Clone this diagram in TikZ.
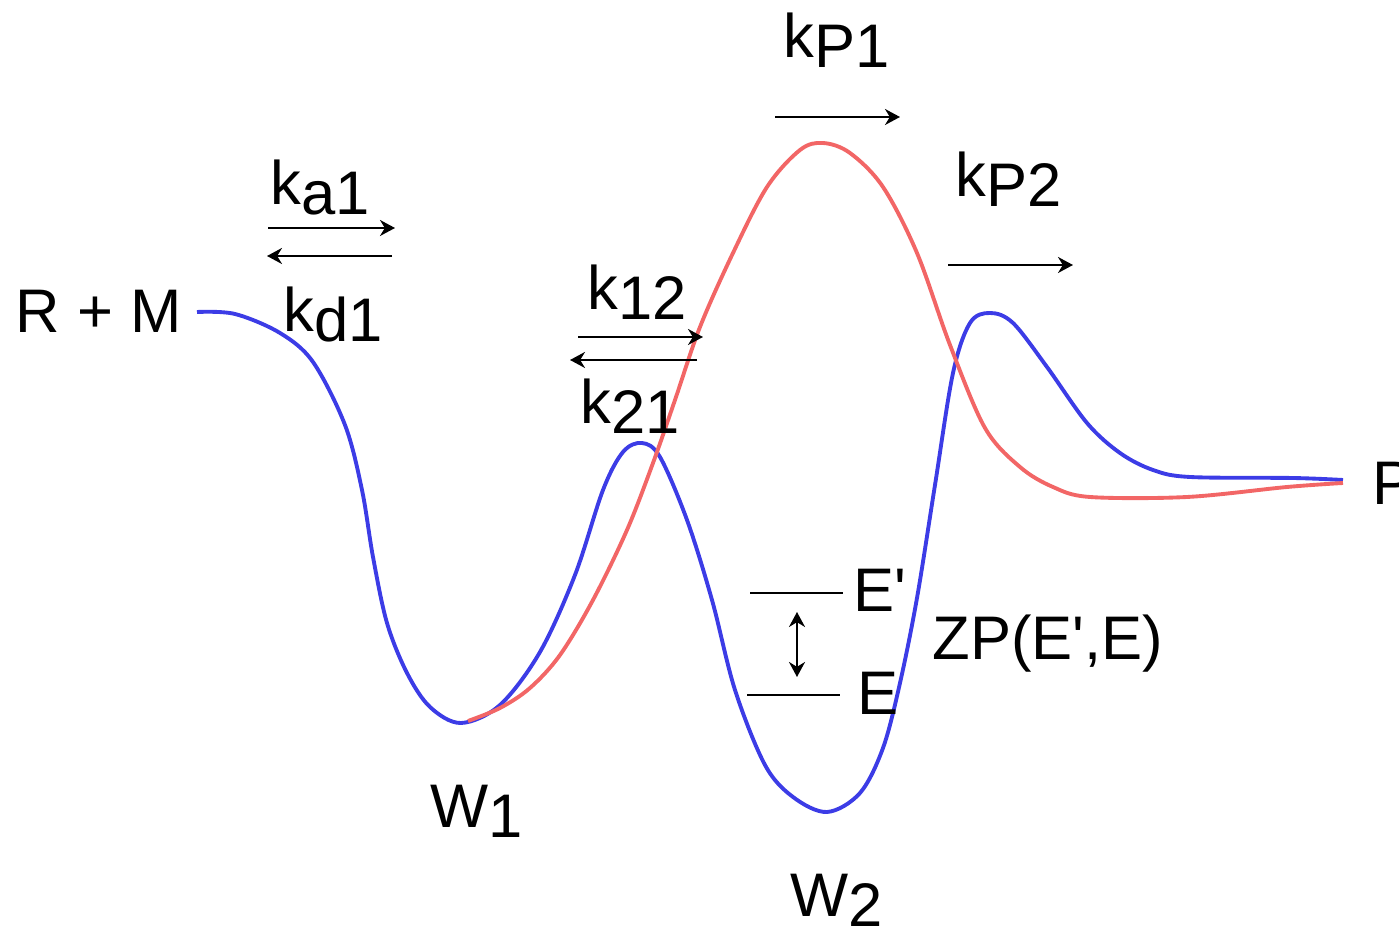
\documentclass[tikz,border=0pt]{standalone}
\usepackage{fontspec}
\setmainfont{Liberation Sans}
\usetikzlibrary{arrows.meta}
\definecolor{cblue}{HTML}{3C3CE6}
\definecolor{cred}{HTML}{F26666}
\newcommand\low[1]{\raisebox{-0.16em}{#1}}
\newcommand\prm{\textquotesingle}
\tikzset{
  every picture/.style={x=0.01cm, y=-0.01cm, font=\fontsize{17.5}{21}\selectfont},
  lbl/.style={anchor=base west, inner sep=0pt},
  rate/.style={-{Stealth[length=0.15cm, width=0.16cm]}, line width=0.6pt},
  level/.style={line width=0.6pt},
  surf/.style={line width=1.1pt, line join=round},
}

\begin{document}
\begin{tikzpicture}
  \useasboundingbox (0,0) rectangle (1399,928);
  % blue surface
  \draw[surf, cblue] plot[smooth, tension=0.55] coordinates {
    (197,312) (235,314) (280,333) (313,362) (345,425) (362,490) (373,557)
    (387,623) (407,673) (430,707) (461,723) (500,705) (540,652) (575,575)
    (603,490) (623,452) (642,443) (660,457) (687,520) (712,600) (735,690)
    (765,765) (793,797) (827,812) (860,793) (883,748) (900,683) (917,598)
    (935,485) (953,373) (970,323) (990,313) (1013,323) (1047,367) (1087,423)
    (1120,453) (1153,470) (1190,477) (1293,478) (1343,480)};
  % red surface
  \draw[surf, cred] plot[smooth, tension=0.55] coordinates {
    (468,721) (500,708) (530,688) (560,655) (593,600) (627,530) (653,463)
    (675,400) (700,327) (733,253) (767,187) (800,150) (823,143) (850,153)
    (883,187) (917,253) (950,345) (985,428) (1020,467) (1053,487) (1090,497)
    (1187,497) (1287,487) (1343,483)};
  % labels
  \node[lbl] (rm) at (15,333) {R + M};
  \node[lbl] (p) at (1372,505) {P};
  \node[lbl] (ka) at (270,205) {k\low{a1}};
  \node[lbl] (kd) at (283,332) {k\low{d1}};
  \node[lbl] (k12) at (587,310) {k\low{12}};
  \node[lbl] (k21) at (580,424) {k\low{21}};
  \node[lbl] (kp1) at (783,58) {k\low{P1}};
  \node[lbl] (kp2) at (955,197) {k\low{P2}};
  \node[lbl] (w1) at (430,828) {W\low{1}};
  \node[lbl] (w2) at (790,917) {W\low{2}};
  \node[lbl] (ep) at (853,612) {E\prm};
  \node[lbl] (e) at (857,715) {E};
  \node[lbl] (zp) at (932,660) {ZP(E\prm,E)};
  % rate arrows
  \draw[rate] (268,228) -- (395,228);
  \draw[rate] (392,256) -- (267,256);
  \draw[rate] (578,337) -- (703,337);
  \draw[rate] (697,360) -- (570,360);
  \draw[rate] (775,117) -- (900,117);
  \draw[rate] (948,265) -- (1073,265);
  % levels
  \coordinate (ep-l) at (750,593);
  \coordinate (e-l) at (747,695);
  \draw[level] (ep-l) -- (843,593);
  \draw[level] (e-l) -- (840,695);
  \draw[rate, {Stealth[length=0.15cm, width=0.16cm]}-{Stealth[length=0.15cm, width=0.16cm]}] (797,612) -- (797,677);
\end{tikzpicture}
\end{document}
